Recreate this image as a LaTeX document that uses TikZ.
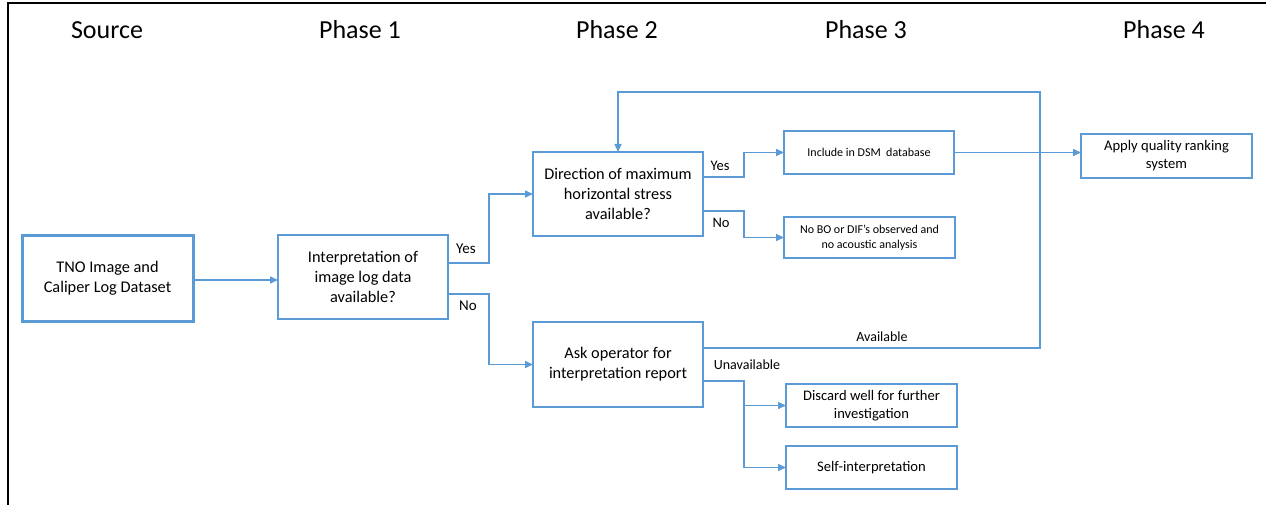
\documentclass[tikz,border=0pt]{standalone}
\usepackage{fontspec}
\setmainfont{Carlito}
\usetikzlibrary{arrows.meta}
\definecolor{lblue}{HTML}{5B9BD5}
\begin{document}
\begin{tikzpicture}[x=1pt,y=-1pt,
  box/.style={draw=lblue, line width=1.5pt, fill=white, align=center, inner sep=2pt, outer sep=0pt, minimum width=170pt},
  big/.style={box, font=\fontsize{16.3}{20}\selectfont},
  mid/.style={box, font=\fontsize{14.6}{18}\selectfont},
  small/.style={box, font=\fontsize{12}{15.5}\selectfont},
  head/.style={font=\fontsize{26}{30}\selectfont, anchor=base},
  lab/.style={font=\fontsize{15}{18}\selectfont},
  arr/.style={draw=lblue, line width=1.5pt, -{Triangle[length=8pt,width=7pt]}},
  ln/.style={draw=lblue, line width=1.5pt}]
\useasboundingbox (0,0) rectangle (1266,505);
\draw[line width=2.2pt] (8,505) -- (8,3) -- (1266,3);
% headings
\node[head] (hs) at (107,39) {Source};
\node[head] (h1) at (360,39) {Phase 1};
\node[head] (h2) at (617,39) {Phase 2};
\node[head] (h3) at (866,39) {Phase 3};
\node[head] (h4) at (1164,39) {Phase 4};
% boxes
\node[big, line width=3pt, minimum width=171pt, minimum height=86pt] (src) at (107.5,278) {TNO Image and\\Caliper Log Dataset};
\node[big, minimum height=84pt] (p1) at (363,277) {Interpretation of\\image log data\\available?};
\node[big, minimum height=84pt] (dir) at (618,194) {Direction of maximum\\horizontal stress\\available?};
\node[big, minimum height=85pt] (ask) at (618,364.5) {Ask operator for\\interpretation report};
\node[small, minimum height=43pt] (inc) at (869,152.5) {Include in DSM\ \ database};
\node[small, minimum width=171pt, minimum height=41pt] (nobo) at (869.5,237.5) {No BO or DIF’s observed and\\no acoustic analysis};
\node[mid, minimum width=171pt, minimum height=44pt] (apply) at (1166.5,156) {Apply quality ranking\\system};
\node[mid, minimum width=171pt, minimum height=43pt] (disc) at (871.5,405.5) {Discard well for further\\investigation};
\node[mid, minimum width=171pt, minimum height=43pt] (self) at (871.5,467.5) {Self-interpretation};
% connectors
\draw[arr] ([yshift=-2pt]src.east) -- ([yshift=-2pt]src.east -| p1.west);
\draw[arr] ([yshift=14pt]p1.east) -- ++(41,0) |- (dir.west);
\draw[arr] ([yshift=-17pt]p1.east) -- ++(41,0) |- (ask.west);
\draw[arr] ([yshift=17pt]dir.east) -- ++(41,0) |- (inc.west);
\draw[arr] ([yshift=-17pt]dir.east) -- ++(41,0) |- (nobo.west);
\draw[arr] (inc.east) -- (inc.east -| apply.west);
\draw[arr] ([yshift=16.5pt]ask.east) -| ++(337,-256) -| (dir.north);
\draw[arr] ([yshift=-16.5pt]ask.east) -- ++(41,0) coordinate (ub) |- (disc.west);
\draw[arr] (ub) |- (self.west);
% labels
\node[lab] (ly1) at (466,249) {Yes};
\node[lab] (ln1) at (468,306) {No};
\node[lab, font=\fontsize{14.5}{17}\selectfont] (ly2) at (720,166) {Yes};
\node[lab, font=\fontsize{14.5}{17}\selectfont] (ln2) at (721,223) {No};
\node[lab, font=\fontsize{14}{17}\selectfont] (lav) at (882,337) {Available};
\node[lab, font=\fontsize{14}{17}\selectfont] (lun) at (747,365) {Unavailable};
\end{tikzpicture}
\end{document}
